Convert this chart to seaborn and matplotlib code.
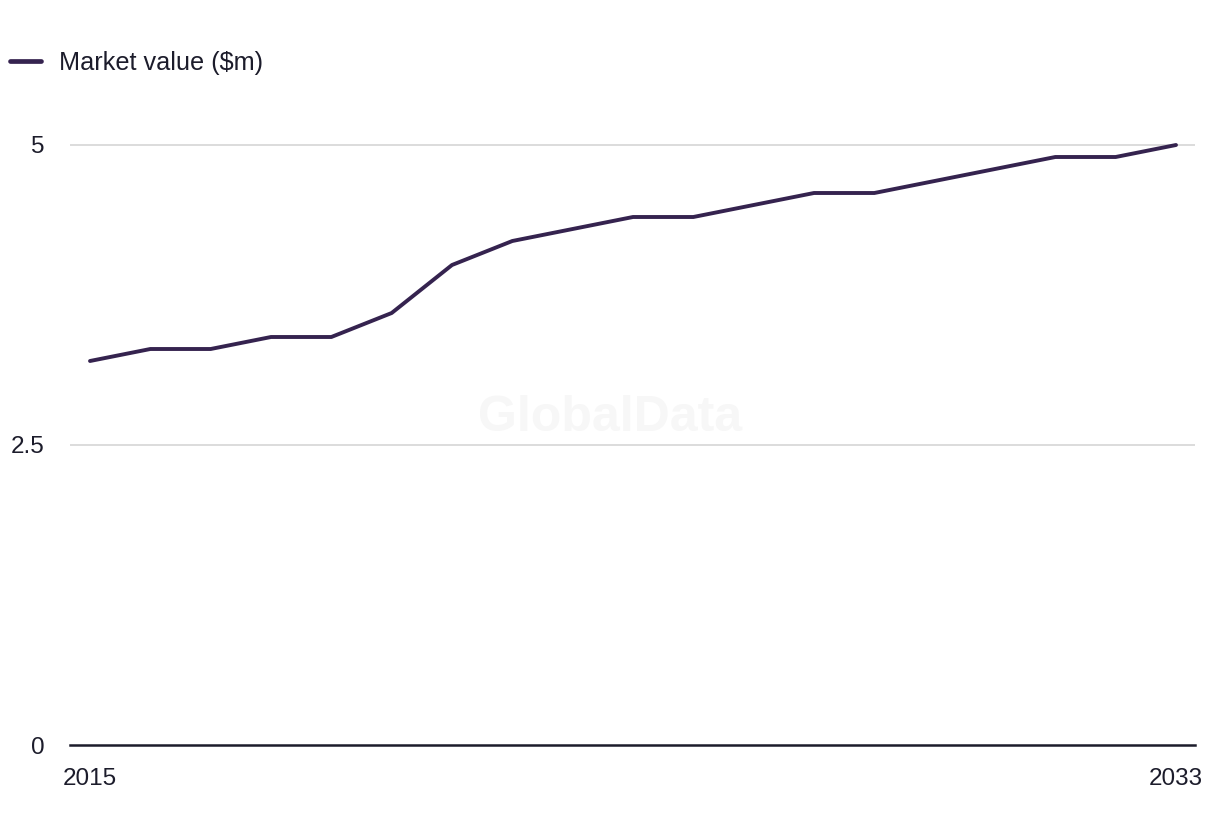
import matplotlib
matplotlib.use("Agg")
import matplotlib.pyplot as plt
import seaborn as sns
import pandas as pd

years = list(range(2015, 2034))
values = [3.2, 3.3, 3.3, 3.4, 3.4, 3.6, 4.0, 4.2, 4.3, 4.4, 4.4, 4.5, 4.6, 4.6, 4.7, 4.8, 4.9, 4.9, 5.0]
series_name = "Market value ($m)"
y_ticks = [0, 2.5, 5]
y_tick_labels = ["0", "2.5", "5"]
x_tick_labels = ["2015", "2033"]

sns.set_theme(style="white")
plt.rcParams["font.family"] = ["Liberation Sans", "DejaVu Sans"]

df = pd.DataFrame({"year": years, "value": values, "series": series_name})

fig = plt.figure(figsize=(12.2, 8.36), dpi=100)
ax = fig.add_axes([70 / 1220, 1 - 745 / 836, 1125 / 1220, (745 - 133) / 836])

line_color = "#35234f"
text_color = "#1c1c2b"
fs = 17.5
sns.lineplot(data=df, x="year", y="value", hue="series", palette=[line_color],
             linewidth=2.8, ax=ax, zorder=3)

ax.set_xlim(2015 - 20 / 60.33, 2033 + 19 / 60.33)
ax.set_ylim(0, 5.1)

ax.set_yticks(y_ticks)
ax.set_yticklabels(y_tick_labels)
ax.set_xticks([2015, 2033])
ax.set_xticklabels(x_tick_labels)
ax.tick_params(axis="y", length=0, pad=18, labelsize=fs, labelcolor=text_color)
ax.tick_params(axis="x", length=0, pad=16.5, labelsize=fs, labelcolor=text_color)

for t in [2.5, 5]:
    ax.axhline(t, color="#d9d9d9", linewidth=1.3, zorder=1)

for s in ["top", "right", "left"]:
    ax.spines[s].set_visible(False)
ax.spines["bottom"].set_color(text_color)
ax.spines["bottom"].set_linewidth(1.8)
ax.spines["bottom"].set_zorder(4)

ax.set_xlabel("")
ax.set_ylabel("")

fig.text(610 / 1220, 1 - 418 / 836, "GlobalData",
         ha="center", va="center", fontsize=36, fontweight="bold", color="#f7f7f7", zorder=0)

leg = ax.legend(loc="center left", bbox_to_anchor=(10 / 1220, 1 - 63 / 836),
                bbox_transform=fig.transFigure, frameon=False, fontsize=18.2,
                handlelength=1.23, handletextpad=0.71, borderaxespad=0, borderpad=0)
for h in leg.get_lines():
    h.set_linewidth(3.4)
for t in leg.get_texts():
    t.set_color(text_color)

fig.savefig("out.png", dpi=100, facecolor="white")
